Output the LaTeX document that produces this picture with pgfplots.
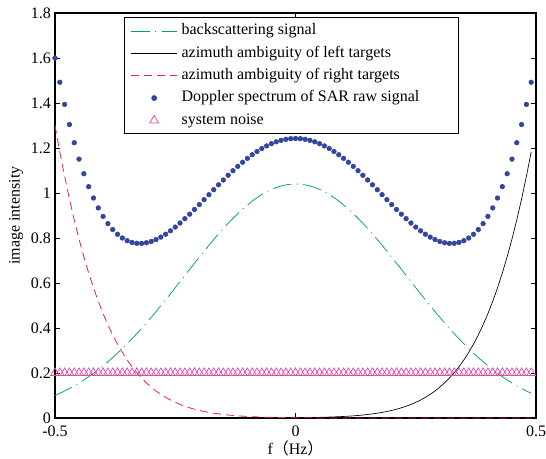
\documentclass[border=0pt]{standalone}
\usepackage{pgfplots}
\pgfplotsset{compat=1.18}
\usepackage{pgfplotstable}
\usepackage{fontspec}
\setmainfont{Liberation Serif}
\newfontfamily\cjk{Noto Sans CJK SC}

\definecolor{bsgreen}{RGB}{0,165,75}
\definecolor{ambred}{RGB}{232,40,50}
\definecolor{dopblue}{RGB}{50,70,160}
\definecolor{noisepink}{RGB}{222,75,165}

% f, backscattering, left ambiguity, right ambiguity, Doppler spectrum, noise
\pgfplotstableread{
f B L R D N
-0.50 0.0999 0 1.3000 1.5999 0.2
-0.49 0.1096 0 1.1826 1.4922 0.2
-0.48 0.1200 0 1.0738 1.3938 0.2
-0.47 0.1312 0 0.9731 1.3043 0.2
-0.46 0.1431 0 0.8803 1.2234 0.2
-0.45 0.1559 0 0.7948 1.1507 0.2
-0.44 0.1694 0 0.7163 1.0857 0.2
-0.43 0.1838 0 0.6443 1.0281 0.2
-0.42 0.1991 0 0.5785 0.9776 0.2
-0.41 0.2152 0 0.5184 0.9336 0.2
-0.40 0.2322 0 0.4637 0.8959 0.2
-0.39 0.2500 0 0.4140 0.8640 0.2
-0.38 0.2687 0 0.3689 0.8376 0.2
-0.37 0.2883 0 0.3281 0.8164 0.2
-0.36 0.3087 0 0.2913 0.8000 0.2
-0.35 0.3299 0 0.2581 0.7880 0.2
-0.34 0.3520 0 0.2283 0.7803 0.2
-0.33 0.3748 0 0.2016 0.7764 0.2
-0.32 0.3983 0 0.1776 0.7759 0.2
-0.31 0.4226 0 0.1562 0.7788 0.2
-0.30 0.4474 0 0.1371 0.7845 0.2
-0.29 0.4729 0 0.1201 0.7930 0.2
-0.28 0.4988 0 0.1051 0.8039 0.2
-0.27 0.5252 0 0.0917 0.8169 0.2
-0.26 0.5519 0 0.0799 0.8318 0.2
-0.25 0.5790 0 0.0695 0.8485 0.2
-0.24 0.6062 0 0.0603 0.8665 0.2
-0.23 0.6335 0 0.0523 0.8858 0.2
-0.22 0.6608 0 0.0452 0.9060 0.2
-0.21 0.6879 0 0.0390 0.9269 0.2
-0.20 0.7149 0 0.0336 0.9485 0.2
-0.19 0.7415 0 0.0289 0.9704 0.2
-0.18 0.7677 0 0.0248 0.9925 0.2
-0.17 0.7933 0 0.0213 1.0146 0.2
-0.16 0.8182 0 0.0182 1.0364 0.2
-0.15 0.8423 0 0.0155 1.0578 0.2
-0.14 0.8655 0.0001 0.0132 1.0788 0.2
-0.13 0.8877 0.0001 0.0112 1.0990 0.2
-0.12 0.9087 0.0001 0.0095 1.1183 0.2
-0.11 0.9285 0.0001 0.0081 1.1367 0.2
-0.10 0.9470 0.0002 0.0068 1.1540 0.2
-0.09 0.9640 0.0002 0.0058 1.1700 0.2
-0.08 0.9795 0.0002 0.0049 1.1846 0.2
-0.07 0.9933 0.0003 0.0041 1.1977 0.2
-0.06 1.0055 0.0004 0.0034 1.2093 0.2
-0.05 1.0159 0.0004 0.0029 1.2192 0.2
-0.04 1.0245 0.0005 0.0024 1.2274 0.2
-0.03 1.0313 0.0007 0.0020 1.2340 0.2
-0.02 1.0361 0.0008 0.0017 1.2386 0.2
-0.01 1.0390 0.0010 0.0014 1.2414 0.2
0.00 1.0400 0.0012 0.0012 1.2424 0.2
0.01 1.0390 0.0014 0.0010 1.2414 0.2
0.02 1.0361 0.0017 0.0008 1.2386 0.2
0.03 1.0313 0.0020 0.0007 1.2340 0.2
0.04 1.0245 0.0024 0.0005 1.2274 0.2
0.05 1.0159 0.0029 0.0004 1.2192 0.2
0.06 1.0055 0.0034 0.0004 1.2093 0.2
0.07 0.9933 0.0041 0.0003 1.1977 0.2
0.08 0.9795 0.0049 0.0002 1.1846 0.2
0.09 0.9640 0.0058 0.0002 1.1700 0.2
0.10 0.9470 0.0068 0.0002 1.1540 0.2
0.11 0.9285 0.0081 0.0001 1.1367 0.2
0.12 0.9087 0.0095 0.0001 1.1183 0.2
0.13 0.8877 0.0112 0.0001 1.0990 0.2
0.14 0.8655 0.0132 0.0001 1.0788 0.2
0.15 0.8423 0.0155 0 1.0578 0.2
0.16 0.8182 0.0182 0 1.0364 0.2
0.17 0.7933 0.0213 0 1.0146 0.2
0.18 0.7677 0.0248 0 0.9925 0.2
0.19 0.7415 0.0289 0 0.9704 0.2
0.20 0.7149 0.0336 0 0.9485 0.2
0.21 0.6879 0.0390 0 0.9269 0.2
0.22 0.6608 0.0452 0 0.9060 0.2
0.23 0.6335 0.0523 0 0.8858 0.2
0.24 0.6062 0.0603 0 0.8665 0.2
0.25 0.5790 0.0695 0 0.8485 0.2
0.26 0.5519 0.0799 0 0.8318 0.2
0.27 0.5252 0.0917 0 0.8169 0.2
0.28 0.4988 0.1051 0 0.8039 0.2
0.29 0.4729 0.1201 0 0.7930 0.2
0.30 0.4474 0.1371 0 0.7845 0.2
0.31 0.4226 0.1562 0 0.7788 0.2
0.32 0.3983 0.1776 0 0.7759 0.2
0.33 0.3748 0.2016 0 0.7764 0.2
0.34 0.3520 0.2283 0 0.7803 0.2
0.35 0.3299 0.2581 0 0.7880 0.2
0.36 0.3087 0.2913 0 0.8000 0.2
0.37 0.2883 0.3281 0 0.8164 0.2
0.38 0.2687 0.3689 0 0.8376 0.2
0.39 0.2500 0.4140 0 0.8640 0.2
0.40 0.2322 0.4637 0 0.8959 0.2
0.41 0.2152 0.5184 0 0.9336 0.2
0.42 0.1991 0.5785 0 0.9776 0.2
0.43 0.1838 0.6443 0 1.0281 0.2
0.44 0.1694 0.7163 0 1.0857 0.2
0.45 0.1559 0.7948 0 1.1507 0.2
0.46 0.1431 0.8803 0 1.2234 0.2
0.47 0.1312 0.9731 0 1.3043 0.2
0.48 0.1200 1.0738 0 1.3938 0.2
0.49 0.1096 1.1826 0 1.4922 0.2
}\spectrum

\newcommand{\chartfont}{\fontsize{12}{14}\selectfont}
\pgfplotsset{
    lineleg/.style={legend image code/.code={\draw[##1, draw=#1] (0pt,0pt) -- (34.5pt,0pt);}},
    markonly legend/.style={legend image code/.code={\draw[##1] plot coordinates {(17.25pt,0pt)};}},
}

\begin{document}
\begin{tikzpicture}
\begin{axis}[
    name=ax,
    scale only axis,
    width=360.75pt, height=303.75pt,
    xmin=-0.5, xmax=0.5,
    ymin=0, ymax=1.8,
    xtick={-0.5,0,0.5},
    xticklabels={-0.5,0,0.5},
    ytick={0,0.2,0.4,0.6,0.8,1,1.2,1.4,1.6,1.8},
    yticklabels={0,0.2,0.4,0.6,0.8,1,1.2,1.4,1.6,1.8},
    tick align=inside,
    major tick length=3.75pt,
    tick style={black, line width=0.5pt},
    axis line style={black, line width=1.2pt},
    xticklabel style={font=\chartfont, yshift=-2.5pt},
    yticklabel style={font=\chartfont, xshift=0.5pt},
    xlabel={f{\cjk （}Hz{\cjk ）}},
    ylabel={image intensity},
    label style={font=\chartfont},
    xlabel style={yshift=4pt},
    ylabel style={yshift=-1pt},
    clip=false,
    legend cell align=left,
    legend style={at={(0.5,0.99)}, anchor=north, xshift=-3pt, line width=0.8pt,
        font=\chartfont, inner xsep=4.5pt, inner ysep=1.5pt, row sep=-0.5pt,
        nodes={inner sep=3pt, text height=8.5pt, text depth=2.75pt}},
]
\addplot[color=bsgreen, line width=0.55pt,
    dash pattern=on 14pt off 4pt on 0.8pt off 4pt, lineleg=bsgreen]
    table[x=f, y=B] {\spectrum};
\addlegendentry{backscattering signal}
\addplot[color=black, line width=0.5pt, lineleg=black]
    table[x=f, y=L] {\spectrum};
\addlegendentry{azimuth ambiguity of left targets}
\addplot[color=ambred, line width=0.6pt, dash pattern=on 6pt off 3.75pt, lineleg=ambred]
    table[x=f, y=R] {\spectrum};
\addlegendentry{azimuth ambiguity of right targets}
\addplot[only marks, mark=*, mark size=1.75pt, color=dopblue, markonly legend]
    table[x=f, y=D] {\spectrum};
\addlegendentry{\makebox[200pt][l]{Doppler spectrum of SAR raw signal}}
\addplot[only marks, mark=triangle, mark size=3.8pt, color=noisepink,
    mark options={line width=0.55pt}, markonly legend]
    table[x=f, y=N] {\spectrum};
\addlegendentry{system noise}
\end{axis}
\pgfresetboundingbox
\path[use as bounding box] ([xshift=-41.25pt,yshift=-30.75pt]ax.south west)
    rectangle ([xshift=7.5pt,yshift=9.75pt]ax.north east);
\end{tikzpicture}
\end{document}
